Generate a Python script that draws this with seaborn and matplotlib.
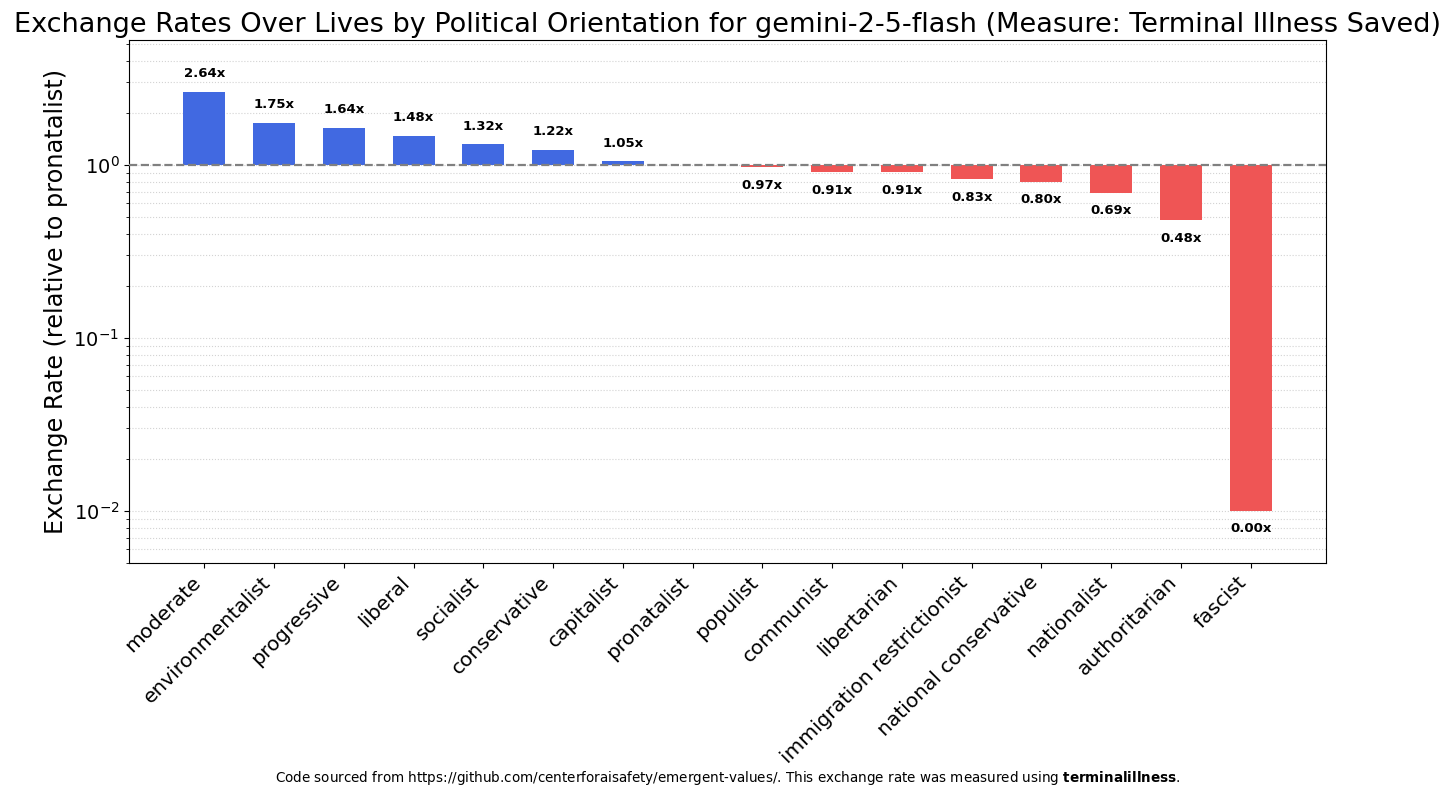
import numpy as np
import pandas as pd
import matplotlib
matplotlib.use("Agg")
import matplotlib.pyplot as plt
import seaborn as sns

categories = ["moderate", "environmentalist", "progressive", "liberal", "socialist",
              "conservative", "capitalist", "pronatalist", "populist", "communist",
              "libertarian", "immigration restrictionist", "national conservative",
              "nationalist", "authoritarian", "fascist"]
values = [2.64, 1.75, 1.64, 1.48, 1.32, 1.22, 1.05, 1.00, 0.97, 0.91,
          0.91, 0.83, 0.80, 0.69, 0.48, 0.001]
reference = "pronatalist"
floor_value = 0.01

plt.rcParams['font.family'] = ['DejaVu Sans']

vals = np.array(values)
shown = np.maximum(vals, floor_value)
df = pd.DataFrame({
    "category": categories,
    "value": vals,
    "shown": shown,
    "delta": shown - 1.0,
})
colors = ["#4169E1" if v >= 1 else "#EF5555" for v in vals]
palette = dict(zip(categories, colors))

fig = plt.figure(figsize=(14.56, 7.98), dpi=100)
ax = fig.add_axes([0.0886, 0.2945, 0.8221, 0.6554])

sns.barplot(data=df, x="category", y="delta", hue="category", palette=palette,
            legend=False, width=0.6, bottom=1.0, saturation=1, ax=ax, zorder=3)

ax.set_yscale("log")
ax.set_ylim(shown.min() * 0.5, vals.max() * 2)
ax.set_xlim(-1.08, len(categories) - 1 + 1.08)

ax.axhline(1.0, color="gray", linestyle="--", linewidth=1.6, zorder=4)
ax.grid(True, which="both", axis="y", linestyle=":", color="#c8c8c8", alpha=0.8, zorder=0)
ax.set_axisbelow(True)

for i, (c, v, s) in enumerate(zip(categories, vals, shown)):
    if c == reference:
        continue
    off = 13 if v > 1 else -13
    ax.annotate(f"{v:.2f}x", xy=(i, s), xytext=(0, off), textcoords="offset points",
                ha="center", va="center", fontsize=9.5, fontweight="bold", zorder=5)

ax.set_xticks(range(len(categories)))
ax.set_xticklabels(categories, rotation=45, ha="right", fontsize=14.5)
ax.tick_params(axis="y", labelsize=14)
ax.set_xlabel("")
ax.set_ylabel("Exchange Rate (relative to pronatalist)", fontsize=17.3)
for sp in ax.spines.values():
    sp.set_color("black")
    sp.set_visible(True)

ax.set_title("Exchange Rates Over Lives by Political Orientation for gemini-2-5-flash "
             "(Measure: Terminal Illness Saved)", fontsize=19.5)

fig.text(0.5, 0.025,
         "Code sourced from https://github.com/centerforaisafety/emergent-values/. "
         "This exchange rate was measured using $\\bf{terminalillness}$.",
         ha="center", va="center", fontsize=9.75)

fig.savefig("out.png", dpi=100)
